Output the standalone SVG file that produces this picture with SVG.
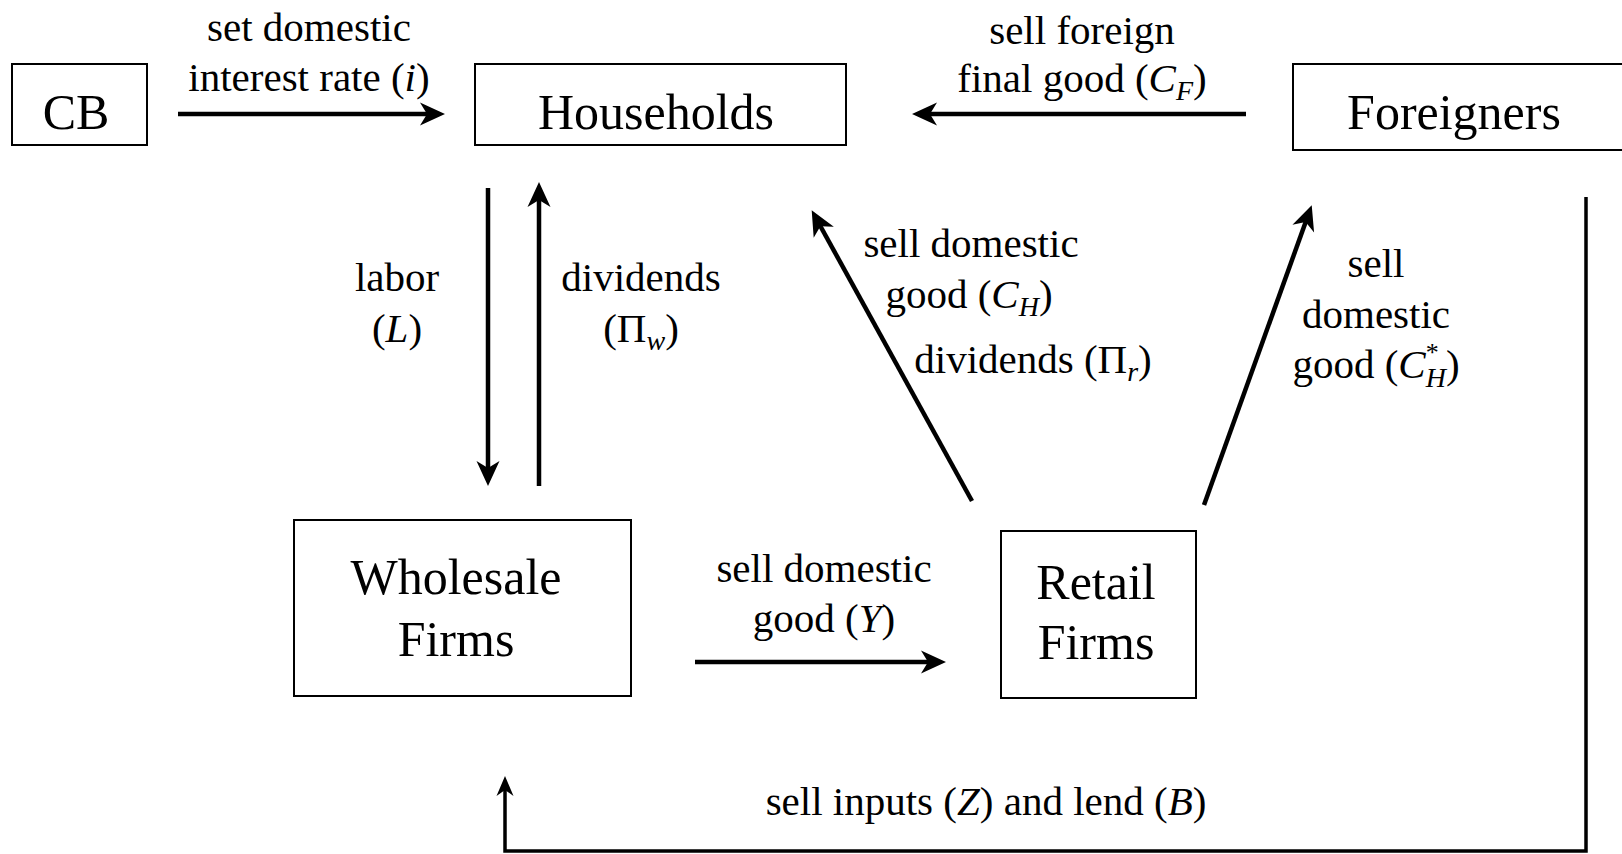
<svg xmlns="http://www.w3.org/2000/svg" width="1622" height="854" viewBox="0 0 1622 854">
<style>
.box{fill:#fff;stroke:#000;stroke-width:2}
.nt{font-family:"Liberation Serif","Times New Roman",serif;font-size:50px;text-anchor:middle;fill:#000}
.lt{font-family:"Liberation Serif","Times New Roman",serif;font-size:41px;text-anchor:middle;fill:#000}
.it{font-style:italic}
.sb{font-size:28px;font-style:italic}
.ar{fill:none;stroke:#000;stroke-width:4.5;marker-end:url(#ah)}
.ar2{fill:none;stroke:#000;stroke-width:3.5;marker-end:url(#ah2)}
</style>
<defs>
<marker id="ah" markerUnits="userSpaceOnUse" viewBox="-16 -13 30 26" markerWidth="30" markerHeight="26" refX="0" refY="0" orient="auto"><path d="M11,0 L-14,-11.5 L-7,0 L-14,11.5 Z" fill="#000"/></marker>
<marker id="ah2" markerUnits="userSpaceOnUse" viewBox="-13 -10 24 20" markerWidth="24" markerHeight="20" refX="0" refY="0" orient="auto"><path d="M9,0 L-11,-8.5 L-5,0 L-11,8.5 Z" fill="#000"/></marker>
</defs>
<g id="cb"><rect class="box" x="12" y="64" width="135" height="81"/><text class="nt" x="76" y="129">CB</text></g>
<g id="households"><rect class="box" x="475" y="64" width="371" height="81"/><text class="nt" x="656" y="129">Households</text></g>
<g id="foreigners"><rect class="box" x="1293" y="64" width="360" height="86"/><text class="nt" x="1454" y="129">Foreigners</text></g>
<g id="wholesale"><rect class="box" x="294" y="520" width="337" height="176"/><text class="nt" x="456" y="594">Wholesale</text><text class="nt" x="456" y="656">Firms</text></g>
<g id="retail"><rect class="box" x="1001" y="531" width="195" height="167"/><text class="nt" x="1096" y="599">Retail</text><text class="nt" x="1096" y="659">Firms</text></g>
<g id="connectors">
<line class="ar" x1="178" y1="114" x2="434" y2="114"/>
<line class="ar" x1="1246" y1="114" x2="923" y2="114"/>
<line class="ar" x1="488" y1="188" x2="488" y2="475"/>
<line class="ar" x1="539" y1="486" x2="539" y2="193"/>
<line class="ar" x1="695" y1="662" x2="935" y2="662"/>
<line class="ar" x1="972" y1="501" x2="817" y2="220"/>
<line class="ar" x1="1204" y1="505" x2="1308" y2="215.5"/>
<polyline class="ar2" points="1586,197 1586,851 505,851 505,785"/>
</g>
<g id="labels">
<text class="lt" x="309" y="41">set domestic</text>
<text class="lt" x="309" y="91">interest rate (<tspan class="it">i</tspan>)</text>
<text class="lt" x="1082" y="44">sell foreign</text>
<text class="lt" x="1082" y="92">final good (<tspan class="it">C</tspan><tspan class="sb" dy="8">F</tspan><tspan dy="-8">)</tspan></text>
<text class="lt" x="397" y="291">labor</text>
<text class="lt" x="397" y="342">(<tspan class="it">L</tspan>)</text>
<text class="lt" x="641" y="291">dividends</text>
<text class="lt" x="641" y="342">(Π<tspan class="sb" dy="8">w</tspan><tspan dy="-8">)</tspan></text>
<text class="lt" x="971" y="257">sell domestic</text>
<text class="lt" x="969" y="308">good (<tspan class="it">C</tspan><tspan class="sb" dy="8">H</tspan><tspan dy="-8">)</tspan></text>
<text class="lt" x="1033" y="373">dividends (Π<tspan class="sb" dy="8">r</tspan><tspan dy="-8">)</tspan></text>
<text class="lt" x="1376" y="277">sell</text>
<text class="lt" x="1376" y="328">domestic</text>
<text class="lt" x="1376" y="378">good (<tspan class="it">C</tspan><tspan font-size="26" dy="-17">*</tspan><tspan class="sb" dx="-13" dy="26">H</tspan><tspan dy="-9">)</tspan></text>
<text class="lt" x="824" y="582">sell domestic</text>
<text class="lt" x="824" y="632">good (<tspan class="it">Y</tspan>)</text>
<text class="lt" x="986" y="815">sell inputs (<tspan class="it">Z</tspan>) and lend (<tspan class="it">B</tspan>)</text>
</g>
</svg>
